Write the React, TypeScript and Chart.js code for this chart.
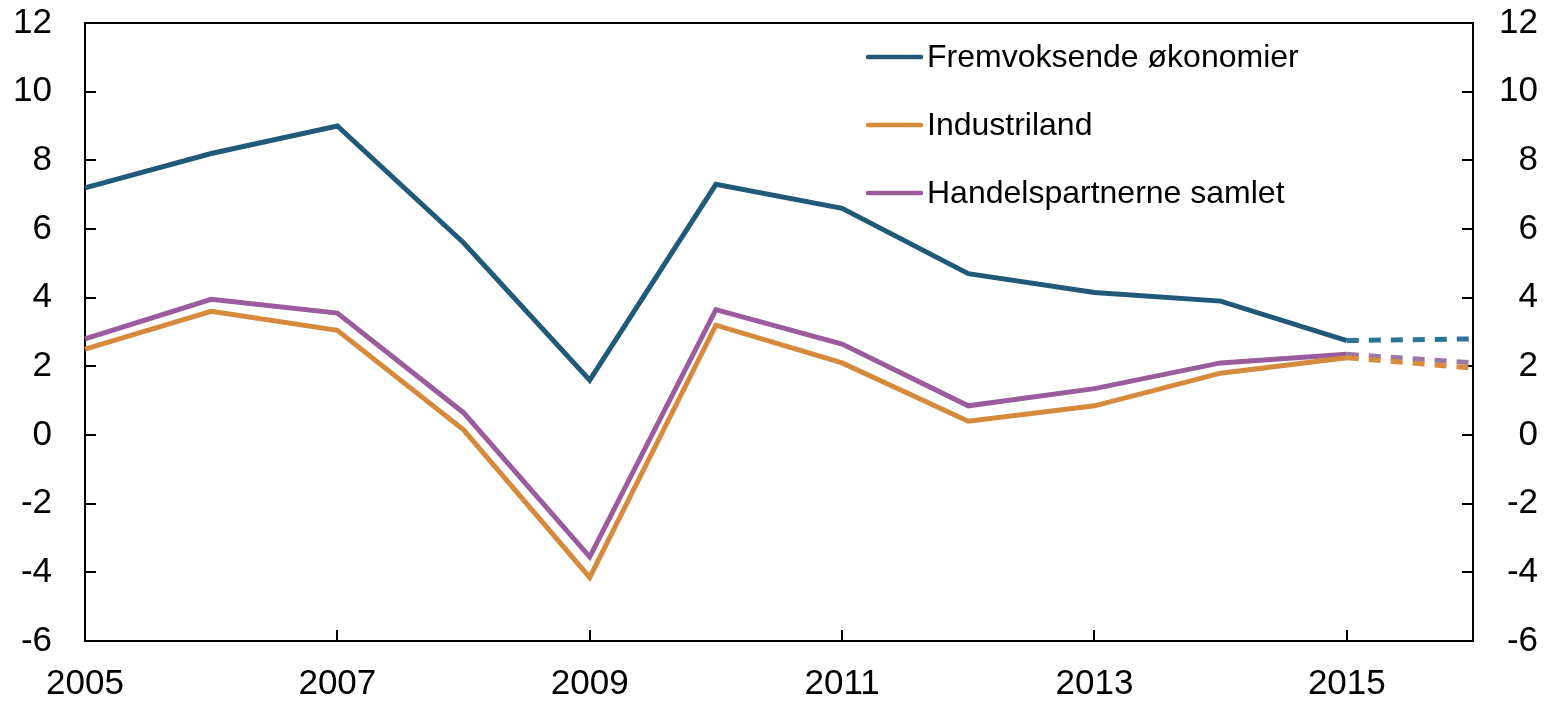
import React, { useEffect, useRef } from "react";
import { Chart, registerables } from "chart.js";

Chart.register(...registerables);

const years = ["2005", "2006", "2007", "2008", "2009", "2010", "2011", "2012", "2013", "2014", "2015", "2016"];
const fremvoksende = [7.2, 8.2, 9.0, 5.6, 1.6, 7.3, 6.6, 4.7, 4.15, 3.9, 2.75, 2.8];
const industriland = [2.5, 3.6, 3.05, 0.15, -4.15, 3.2, 2.1, 0.4, 0.85, 1.8, 2.25, 1.95];
const handelspartnerne = [2.8, 3.95, 3.55, 0.65, -3.55, 3.65, 2.65, 0.85, 1.35, 2.1, 2.35, 2.1];
const yTicks = [-6, -4, -2, 0, 2, 4, 6, 8, 10, 12];
const xLabelYears = ["2005", "2007", "2009", "2011", "2013", "2015"];
const forecastStart = 10;

const FONT = "'Liberation Sans', Arial, sans-serif";

const seriesDefs = [
  { label: "Fremvoksende økonomier", data: fremvoksende, color: "#215a78", dash: "#2c7594" },
  { label: "Industriland", data: industriland, color: "#d68a3c", dash: "#d98c3c" },
  { label: "Handelspartnerne samlet", data: handelspartnerne, color: "#9a5c9c", dash: "#9a78a4" },
];

const framePlugin = {
  id: "frame",
  beforeDatasetsDraw(chart: any) {
    const { ctx, chartArea } = chart;
    const { left, right, top, bottom } = chartArea;
    ctx.save();
    ctx.strokeStyle = "#000";
    ctx.lineWidth = 2;
    ctx.beginPath();
    ctx.rect(left, top, right - left, bottom - top);
    ctx.stroke();
    const y = chart.scales.y;
    ctx.beginPath();
    yTicks.forEach((v) => {
      const py = Math.round(y.getPixelForValue(v));
      ctx.moveTo(left, py);
      ctx.lineTo(left + 11, py);
      ctx.moveTo(right, py);
      ctx.lineTo(right - 11, py);
    });
    const x = chart.scales.x;
    xLabelYears.forEach((yr) => {
      const px = Math.round(x.getPixelForValue(years.indexOf(yr)));
      ctx.moveTo(px, bottom);
      ctx.lineTo(px, bottom - 11);
    });
    ctx.stroke();
    ctx.restore();
  },
  afterDraw(chart: any) {
    const { ctx } = chart;
    ctx.save();
    ctx.font = `32px ${FONT}`;
    ctx.textBaseline = "middle";
    ctx.textAlign = "left";
    const x0 = 860;
    const y0 = 49;
    seriesDefs.forEach((s, i) => {
      const yy = y0 + i * 68;
      ctx.strokeStyle = s.color;
      ctx.lineWidth = 4.5;
      ctx.lineCap = "round";
      ctx.beginPath();
      ctx.moveTo(x0, yy);
      ctx.lineTo(x0 + 53, yy);
      ctx.stroke();
      ctx.fillStyle = "#000";
      ctx.fillText(s.label, x0 + 59, yy + 1);
    });
    ctx.restore();
  },
};

export default function App() {
  const ref = useRef<HTMLCanvasElement | null>(null);
  useEffect(() => {
    if (!ref.current) return;
    const chart = new Chart(ref.current, {
      type: "line",
      data: {
        labels: years,
        datasets: seriesDefs.map((s) => ({
          label: s.label,
          data: s.data,
          borderColor: s.color,
          backgroundColor: s.color,
          borderWidth: 5,
          pointRadius: 0,
          tension: 0,
          fill: false,
          clip: false as any,
          segment: {
            borderDash: (c: any) => (c.p0DataIndex >= forecastStart ? [12, 10] : undefined),
            borderColor: (c: any) => (c.p0DataIndex >= forecastStart ? s.dash : undefined),
          },
          yAxisID: "y",
        })),
      },
      options: {
        animation: false,
        responsive: false,
        maintainAspectRatio: false,
        layout: { padding: { left: 0, right: 9, top: 15, bottom: 0 } },
        plugins: { legend: { display: false }, tooltip: { enabled: false } },
        scales: {
          x: {
            type: "category",
            offset: false,
            grid: { display: false, drawTicks: false },
            border: { display: false },
            ticks: {
              autoSkip: false,
              maxRotation: 0,
              padding: 22,
              color: "#000",
              font: { family: FONT, size: 35 },
              callback: (_v: any, i: number) => (xLabelYears.includes(years[i]) ? years[i] : ""),
            },
            afterFit: (s: any) => {
              s.height = 60;
              s.paddingLeft = 0;
              s.paddingRight = 0;
            },
          },
          y: {
            position: "left",
            min: -6,
            max: 12,
            grid: { display: false, drawTicks: false },
            border: { display: false },
            ticks: {
              stepSize: 2,
              padding: 33,
              color: "#000",
              font: { family: FONT, size: 35 },
            },
            afterFit: (s: any) => {
              s.width = 77;
              s.paddingTop = 0;
              s.paddingBottom = 0;
            },
          },
          y2: {
            position: "right",
            min: -6,
            max: 12,
            grid: { display: false, drawTicks: false },
            border: { display: false },
            ticks: {
              stepSize: 2,
              padding: 0,
              crossAlign: "far",
              color: "#000",
              font: { family: FONT, size: 35 },
            },
            afterFit: (s: any) => {
              s.width = 65;
              s.paddingTop = 0;
              s.paddingBottom = 0;
            },
          },
        },
      },
      plugins: [framePlugin],
    });
    return () => chart.destroy();
  }, []);
  return <canvas ref={ref} width={1539} height={693} style={{ display: "block" }} />;
}
